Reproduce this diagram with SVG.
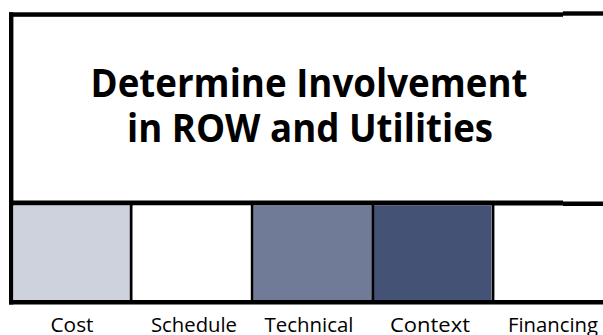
<svg xmlns="http://www.w3.org/2000/svg" width="603" height="335" viewBox="0 0 603 335">
  <style>
    .title { font-family: "Open Sans", "Noto Sans", sans-serif; font-weight: 700; font-size: 40px; fill: #000; text-anchor: middle; }
    .lbl { font-family: "Open Sans", "Noto Sans", sans-serif; font-weight: 400; font-size: 19.5px; fill: #000; text-anchor: middle; }
    .frame { fill: #000; }
    .div { fill: #000; }
  </style>
  <rect width="603" height="335" fill="#ffffff"/>
  <g id="main-box">
    <rect class="frame" x="9" y="12.3" width="554" height="4.5"/>
    <rect class="frame" x="563" y="11.3" width="40" height="4.4"/>
    <rect class="frame" x="9" y="12.3" width="4.4" height="292.2"/>
    <rect class="frame" x="9" y="200.5" width="554" height="5"/>
    <rect class="frame" x="563" y="201.5" width="40" height="4.5"/>
    <text class="title" x="309" y="96.5" textLength="437" lengthAdjust="spacingAndGlyphs">Determine Involvement</text>
    <text class="title" x="310" y="142.3" textLength="366" lengthAdjust="spacingAndGlyphs">in ROW and Utilities</text>
  </g>
  <g id="cost">
    <rect x="13.4" y="205.5" width="116.6" height="94.5" fill="#cdd2dc"/>
    <text class="lbl" x="72" y="332" textLength="43" lengthAdjust="spacingAndGlyphs">Cost</text>
  </g>
  <g id="schedule">
    <rect x="132.5" y="205.5" width="118.5" height="94.5" fill="#ffffff"/>
    <text class="lbl" x="194" y="332" textLength="86" lengthAdjust="spacingAndGlyphs">Schedule</text>
  </g>
  <g id="technical">
    <rect x="253.3" y="205.5" width="118.5" height="94.5" fill="#707b97"/>
    <text class="lbl" x="309" y="332" textLength="89" lengthAdjust="spacingAndGlyphs">Technical</text>
  </g>
  <g id="context">
    <rect x="374" y="205.5" width="117.5" height="94.5" fill="#435275"/>
    <text class="lbl" x="430" y="332" textLength="80" lengthAdjust="spacingAndGlyphs">Context</text>
  </g>
  <g id="financing">
    <rect x="494.3" y="206" width="108.7" height="94" fill="#ffffff"/>
    <text class="lbl" x="553" y="332" textLength="90" lengthAdjust="spacingAndGlyphs">Financing</text>
  </g>
  <g id="connectors">
    <rect class="div" x="129.8" y="205" width="2.7" height="96"/>
    <rect class="div" x="250.8" y="205" width="2.6" height="96"/>
    <rect class="div" x="371.6" y="205" width="2.6" height="96"/>
    <rect class="div" x="491.8" y="205" width="2.6" height="96"/>
    <rect class="frame" x="9" y="300" width="594" height="4.5"/>
  </g>
</svg>
